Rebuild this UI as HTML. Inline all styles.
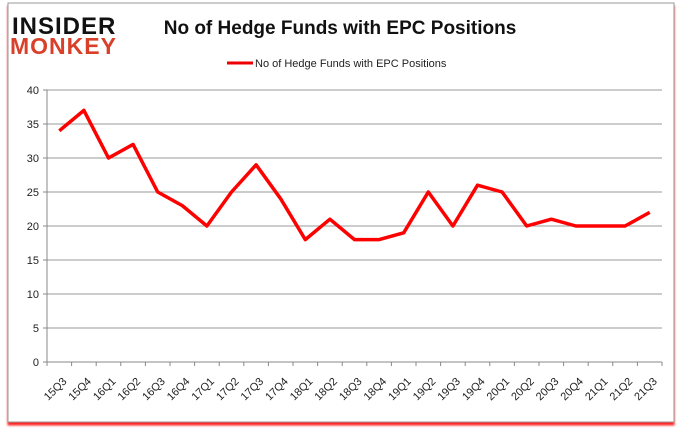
<!DOCTYPE html>
<html><head><meta charset="utf-8"><style>
body{margin:0;width:680px;height:433px;background:#fff;overflow:hidden;font-family:"Liberation Sans",sans-serif}
</style></head><body>
<svg width="680" height="433" xmlns="http://www.w3.org/2000/svg">
<rect x="8" y="3" width="666" height="419" fill="#fff" stroke="#999" stroke-width="1" style="filter:drop-shadow(0 3px 1px #f22)"/>
<g>
<text x="12" y="34" font-family="Liberation Sans" font-weight="bold" font-size="24" fill="#111" letter-spacing="1">INSIDER</text>
<text x="10" y="54" font-family="Liberation Sans" font-weight="bold" font-size="23" fill="#d9402a" letter-spacing="1">MONKEY</text>
</g>
<text x="340" y="34" text-anchor="middle" font-family="Liberation Sans" font-weight="bold" font-size="19" fill="#111">No of Hedge Funds with EPC Positions</text>
<line x1="227" y1="63" x2="253" y2="63" stroke="#e00" stroke-width="3"/>
<text x="255" y="67" font-size="11" fill="#222">No of Hedge Funds with EPC Positions</text>
<g id="grid"></g><g id="axes"></g><g id="series"></g>
</svg>
<script>
const categories=["15Q3","15Q4","16Q1","16Q2","16Q3","16Q4","17Q1","17Q2","17Q3","17Q4","18Q1","18Q2","18Q3","18Q4","19Q1","19Q2","19Q3","19Q4","20Q1","20Q2","20Q3","20Q4","21Q1","21Q2","21Q3"];
const values=[34,37,30,32,25,23,20,25,29,24,18,21,18,18,19,25,20,26,25,20,21,20,20,20,22];
const yTicks=[0,5,10,15,20,25,30,35,40];
const NS="http://www.w3.org/2000/svg";
const X0=47,X1=662,Y0=362,Y1=90;
const step=(X1-X0)/categories.length;
const xs=i=>X0+step*(i+0.5);
const ys=v=>Y0-(v/40)*(Y0-Y1);
function mk(t,a,p){const e=document.createElementNS(NS,t);for(const k in a)e.setAttribute(k,a[k]);p.appendChild(e);return e;}
const grid=document.getElementById('grid'),axes=document.getElementById('axes'),series=document.getElementById('series');
yTicks.forEach(v=>{
 const l=mk('line',{x1:X0,x2:X1,y1:ys(v),y2:ys(v),stroke:v===0?'#888':'#999','stroke-width':1},grid);
 
 
 const t=mk('text',{x:X0-8,y:ys(v)+4,'text-anchor':'end','font-size':11,fill:'#222'},axes);
 t.textContent=v;
 
 
 mk('line',{x1:X0-4,x2:X0,y1:ys(v),y2:ys(v),stroke:'#888'},axes);
});
mk('line',{x1:X0,x2:X0,y1:Y1,y2:Y0,stroke:'#888'},axes);
categories.forEach((c,i)=>{
 mk('line',{x1:X0+step*i,x2:X0+step*i,y1:Y0,y2:Y0+4,stroke:'#888'},axes);
 const x=xs(i)+8,y=Y0+20;
 const t=mk('text',{x:x,y:y,'text-anchor':'end','font-size':11,fill:'#222',transform:`rotate(-45 ${x} ${y})`},axes);
 t.textContent=c;
 
 
});
mk('line',{x1:X1,x2:X1,y1:Y0,y2:Y0+4,stroke:'#888'},axes);
const pts=values.map((v,i)=>xs(i)+','+ys(v)).join(' ');
const pl=mk('polyline',{points:pts,fill:'none',stroke:'#f00','stroke-width':3.5,'stroke-linejoin':'round'},series);


</script>
</body></html>
